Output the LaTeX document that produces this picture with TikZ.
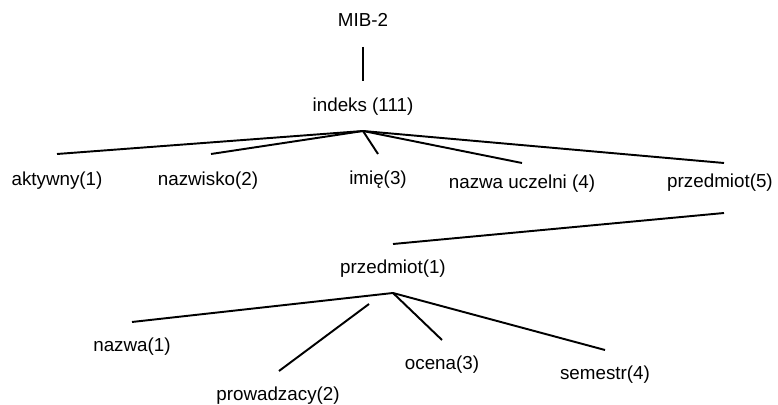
\documentclass[tikz,border=0pt]{standalone}
\usepackage{fontspec}
\setmainfont{Liberation Sans}
\usepackage{xcolor}
\usepackage{tikz}
\usetikzlibrary{positioning}

\tikzset{
  lbl/.style={font=\fontsize{10.7}{13}\selectfont, inner sep=0pt, text height=0.75em, text depth=0.2em},
  edge/.style={line width=1.1pt, black}
}

\begin{document}
\begin{tikzpicture}[x=0.02cm, y=-0.02cm]
  % Frame
  \useasboundingbox (0,0) rectangle (778,405);

  % --- Top: MIB-2 and indeks ---
  \node[lbl] (mib) at (363,22) {MIB-2};
  \node[lbl] (indeks) at (363,107) {indeks (111)};
  \coordinate (mibEnd) at (363,47);
  \coordinate (indeksTop) at (363,81);
  \draw[edge] (mibEnd) -- (indeksTop);

  % --- Level 1 children ---
  \coordinate (hubIndeks) at (363,131);
  \node[lbl] (aktywny) at (57,181) {aktywny(1)};
  \node[lbl] (nazwisko) at (208,181) {nazwisko(2)};
  \node[lbl] (imie) at (378,180) {imię(3)};
  \node[lbl] (uczelnia) at (522,184) {nazwa uczelni (4)};
  \node[lbl] (przedmiotA) at (720,183) {przedmiot(5)};
  \coordinate (aktywnyTop) at (57,154);
  \coordinate (nazwiskoTop) at (211,154);
  \coordinate (imieTop) at (378,154);
  \coordinate (uczelniaTop) at (522,163);
  \coordinate (przedmiotATop) at (724,163);
  \draw[edge] (hubIndeks) -- (aktywnyTop);
  \draw[edge] (hubIndeks) -- (nazwiskoTop);
  \draw[edge] (hubIndeks) -- (imieTop);
  \draw[edge] (hubIndeks) -- (uczelniaTop);
  \draw[edge] (hubIndeks) -- (przedmiotATop);

  % --- przedmiot(5) -> przedmiot(1) ---
  \node[lbl] (przedmiotB) at (393,269) {przedmiot(1)};
  \coordinate (przedmiotABot) at (724,213);
  \coordinate (przedmiotBTop) at (393,244);
  \draw[edge] (przedmiotABot) -- (przedmiotBTop);

  % --- Level 2 children ---
  \coordinate (hubPrzedmiot) at (393,293);
  \node[lbl] (nazwa) at (132,347) {nazwa(1)};
  \node[lbl] (prowadzacy) at (278,396) {prowadzacy(2)};
  \node[lbl] (ocena) at (442,365) {ocena(3)};
  \node[lbl] (semestr) at (605,375) {semestr(4)};
  \coordinate (nazwaTop) at (132,322);
  \coordinate (prowadzacyTop) at (279,371);
  \coordinate (prowadzacyEnd) at (369,304);
  \coordinate (ocenaTop) at (442,340);
  \coordinate (semestrTop) at (605,350);
  \draw[edge] (hubPrzedmiot) -- (nazwaTop);
  \draw[edge] (prowadzacyEnd) -- (prowadzacyTop);
  \draw[edge] (hubPrzedmiot) -- (ocenaTop);
  \draw[edge] (hubPrzedmiot) -- (semestrTop);
\end{tikzpicture}
\end{document}
